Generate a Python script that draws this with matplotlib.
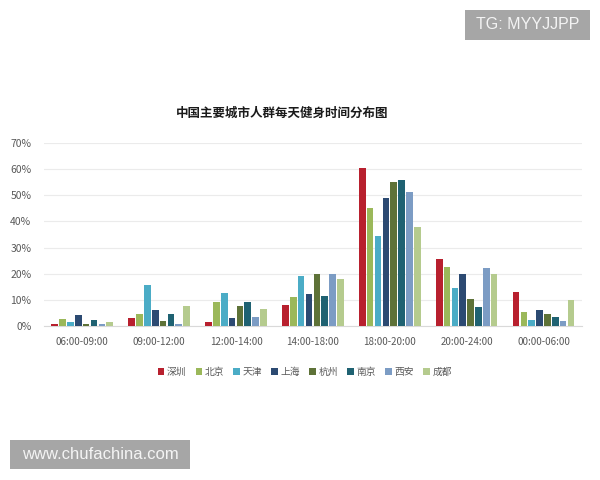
import numpy as np
import matplotlib
matplotlib.use("Agg")
import matplotlib.pyplot as plt
from matplotlib.patches import Rectangle

plt.rcParams['font.family'] = ['Noto Sans CJK SC', 'DejaVu Sans']

periods = ["06:00-09:00", "09:00-12:00", "12:00-14:00", "14:00-18:00",
           "18:00-20:00", "20:00-24:00", "00:00-06:00"]
cities = ["深圳", "北京", "天津", "上海", "杭州", "南京", "西安", "成都"]
colors = ["#B8202E", "#9BB85A", "#4BACC6", "#2C4A72",
          "#5E7238", "#1F6272", "#7C9CC4", "#B5CB8E"]

# percentage per city, one value per period
shenzhen = [0.8, 3.1, 1.5, 8.0, 60.3, 25.6, 12.9]
beijing = [2.7, 4.7, 9.1, 11.1, 45.1, 22.7, 5.4]
tianjin = [1.4, 15.8, 12.6, 19.2, 34.6, 14.4, 2.4]
shanghai = [4.1, 6.0, 3.1, 12.1, 49.0, 20.0, 6.0]
hangzhou = [0.9, 2.0, 7.7, 20.0, 55.2, 10.2, 4.7]
nanjing = [2.2, 4.7, 9.2, 11.6, 55.9, 7.1, 3.6]
xian = [0.9, 0.9, 3.6, 20.0, 51.2, 22.2, 1.9]
chengdu = [1.4, 7.5, 6.3, 17.8, 37.7, 20.0, 9.9]
series = [shenzhen, beijing, tianjin, shanghai, hangzhou, nanjing, xian, chengdu]

yticks = [0, 10, 20, 30, 40, 50, 60, 70]

fig = plt.figure(figsize=(6, 4.8), dpi=100)
ax = fig.add_axes([0.073, 0.321, 0.897, 0.381])

x = np.arange(len(periods))
slot = 0.102
width = 0.086
for i, (name, vals, c) in enumerate(zip(cities, series, colors)):
    ax.bar(x + (i - 3.5) * slot, vals, width, color=c, label=name, zorder=3)

ax.set_xlim(-0.5, len(periods) - 0.5)
ax.set_ylim(0, 70)
ax.set_yticks(yticks)
ax.set_yticklabels([f"{v}%" for v in yticks])
ax.set_xticks(x)
ax.set_xticklabels(periods)
ax.tick_params(axis='both', length=0, labelsize=7, colors="#595959")
ax.tick_params(axis='y', labelsize=7.5, pad=9)
ax.tick_params(axis='x', pad=8)
ax.grid(axis='y', color="#EBEBEB", linewidth=0.8, zorder=0)
for s in ["top", "right", "left"]:
    ax.spines[s].set_visible(False)
ax.spines["bottom"].set_color("#D9D9D9")

fig.text(0.47, 0.764, "中国主要城市人群每天健身时间分布图", ha="center", va="center",
         fontsize=9, fontweight="bold", color="#1a1a1a")

fig.legend(loc="center", bbox_to_anchor=(0.508, 0.225), ncol=8, frameon=False,
           fontsize=7, handlelength=0.7, handleheight=0.7, handletextpad=0.25,
           columnspacing=0.95, labelcolor="#595959")

# watermarks
fig.patches.append(Rectangle((0.775, 0.917), 0.208, 0.062, transform=fig.transFigure,
                             fc="#A6A6A6", ec="none"))
fig.text(0.879, 0.948, "TG: MYYJJPP", ha="center", va="center", fontsize=11.5,
         color="#F4F4F4", family=['Liberation Sans'])
fig.patches.append(Rectangle((0.0167, 0.023), 0.300, 0.060, transform=fig.transFigure,
                             fc="#A6A6A6", ec="none"))
fig.text(0.167, 0.053, "www.chufachina.com", ha="center", va="center", fontsize=12,
         color="#F4F4F4", family=['Liberation Sans'])

fig.savefig("out.png", dpi=100, facecolor="white")
